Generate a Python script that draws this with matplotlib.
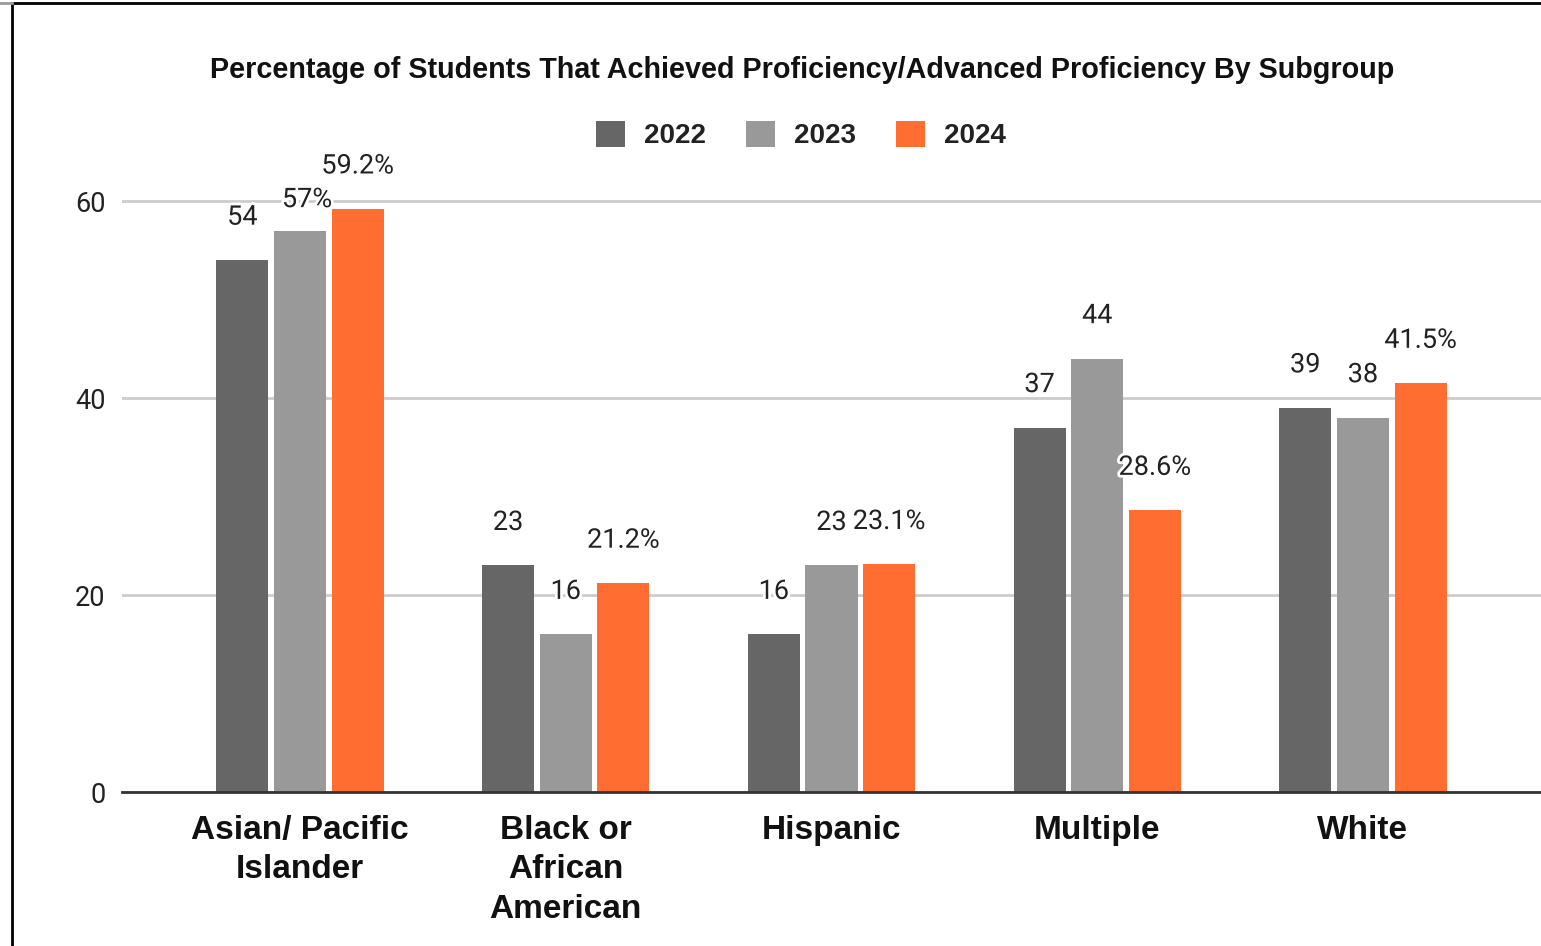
"""Proficiency by subgroup, grouped bars for 2022-2024."""
import matplotlib
matplotlib.use("Agg")
import matplotlib.pyplot as plt  # noqa: E402
import matplotlib.patheffects as pe  # noqa: E402
from matplotlib.lines import Line2D  # noqa: E402
from matplotlib.patches import Patch  # noqa: E402
import numpy as np  # noqa: E402

categories = ["Asian/ Pacific\nIslander", "Black or\nAfrican\nAmerican",
              "Hispanic", "Multiple", "White"]
years = ["2022", "2023", "2024"]
v2022 = [54, 23, 16, 37, 39]
v2023 = [57, 16, 23, 44, 38]
v2024 = [59.2, 21.2, 23.1, 28.6, 41.5]
lab2022 = ["54", "23", "16", "37", "39"]
lab2023 = ["57%", "16", "23", "44", "38"]
lab2024 = ["59.2%", "21.2%", "23.1%", "28.6%", "41.5%"]
yticks = [0, 20, 40, 60]

colors = ["#666666", "#999999", "#ff6d31"]
BOLD = ["Liberation Sans", "DejaVu Sans"]
REG = ["Roboto", "DejaVu Sans"]

fig = plt.figure(figsize=(15.41, 9.46), dpi=100)
ax = fig.add_axes([122 / 1541, 1 - 792 / 946, 1 - 122 / 1541, 792 / 946 - 142 / 946])

x = np.arange(len(categories))
step, w = 0.217, 0.196
series = [v2022, v2023, v2024]
labels = [lab2022, lab2023, lab2024]
halo = [pe.withStroke(linewidth=4, foreground="white")]
# label nudges (pixels) for the one label Sheets moved to avoid overlap
nudge = {(1, 0): (7, -12)}
for i, (vals, labs) in enumerate(zip(series, labels)):
    xs = x + (i - 1) * step
    ax.bar(xs, vals, w, color=colors[i], zorder=3)
    for j, (xx, v, t) in enumerate(zip(xs, vals, labs)):
        dx, dy = nudge.get((i, j), (0, 0))
        ax.annotate(t, (xx, v), xytext=(dx, 35.5 + dy), textcoords="offset pixels",
                    ha="center", va="baseline", fontsize=19.5, family=REG,
                    color="#222222", path_effects=halo, zorder=5)

ax.set_xlim(-0.67, len(categories) - 1 + 0.67)
ax.set_ylim(0, 66)
ax.set_yticks(yticks)
ax.set_yticklabels([str(t) for t in yticks], fontsize=19.5, family=REG, color="#222222")
ax.set_xticks(x)
ax.set_xticklabels(categories, fontsize=24, family=BOLD, fontweight="bold",
                   linespacing=1.35, color="#111111")
ax.tick_params(axis="y", length=0, pad=12)
ax.tick_params(axis="x", length=0, pad=16.5)
ax.grid(axis="y", color="#cccccc", linewidth=2, zorder=0)
for s in ["top", "right", "left"]:
    ax.spines[s].set_visible(False)
ax.spines["bottom"].set_color("#333333")
ax.spines["bottom"].set_linewidth(2)
ax.spines["bottom"].set_zorder(4)

fig.text(802 / 1541, 1 - 70 / 946, "Percentage of Students That Achieved "
         "Proficiency/Advanced Proficiency By Subgroup", ha="center", va="center",
         fontsize=20.7, family=BOLD, fontweight="bold", color="#111111")

handles = [Patch(facecolor=c, edgecolor="none") for c in colors]
leg = fig.legend(handles, years, loc="center", bbox_to_anchor=(801 / 1541, 1 - 135 / 946),
                 ncol=3, frameon=False, handlelength=1.05, handleheight=1.05,
                 handletextpad=0.68, columnspacing=1.44,
                 prop={"family": BOLD, "weight": "bold", "size": 20})
for t in leg.get_texts():
    t.set_color("#222222")

# outer frame from the screenshot
fig.add_artist(Line2D([12 / 1541, 12 / 1541], [0, 1 - 3 / 946], color="black",
                      linewidth=2, transform=fig.transFigure))
fig.add_artist(Line2D([12 / 1541, 1], [1 - 3 / 946, 1 - 3 / 946], color="black",
                      linewidth=2, transform=fig.transFigure))
fig.add_artist(Line2D([0, 12 / 1541], [1 - 3 / 946, 1 - 3 / 946], color="#999999",
                      linewidth=2, transform=fig.transFigure))

fig.savefig("out.png", dpi=100)
